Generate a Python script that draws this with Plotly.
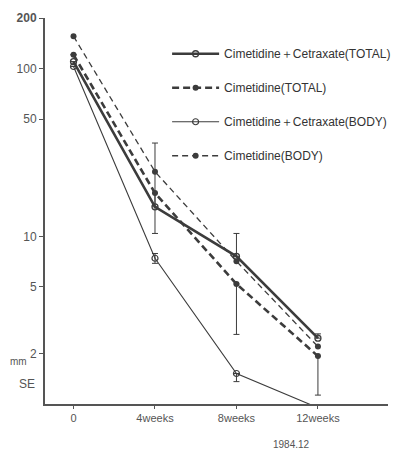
import plotly.graph_objects as go

weeks = [0, 4, 8, 12]
tick_labels = ["0", "4weeks", "8weeks", "12weeks"]

names = [
    "Cimetidine\uff0bCetraxate(TOTAL)",
    "Cimetidine(TOTAL)",
    "Cimetidine\uff0bCetraxate(BODY)",
    "Cimetidine(BODY)",
]
cc_total = [110, 15.0, 7.6, 2.47]
cim_total = [121, 18.1, 5.2, 1.93]
cc_body = [103, 7.4, 1.52, 0.95]
cim_body = [156, 24.3, 7.1, 2.2]

# SE bars (upper / lower)
cc_total_up = [0, 21.0, 2.8, 0.15]
cim_total_down = [0, 7.7, 2.6, 0.8]
cc_body_up = [0, 0.5, 0, 0]
cc_body_down = [0, 0.5, 0.16, 0]

y_ticks = [2, 5, 10, 50, 100, 200]
y_ticktext = ["2", "5", "10", "50", "100", "<b>200</b>"]

ink = "#3c3c3c"
fig = go.Figure()

fig.add_trace(go.Scatter(
    x=weeks, y=cc_total, name=names[0], legendgroup="a", mode="lines+markers",
    line=dict(color=ink, width=2.6),
    marker=dict(symbol="circle-open", size=6, color=ink, line=dict(width=1.3)),
    error_y=dict(type="data", symmetric=False, array=cc_total_up,
                 arrayminus=[0, 0, 0, 0], color=ink, thickness=1, width=3),
    cliponaxis=False))
fig.add_trace(go.Scatter(
    x=weeks, y=cim_total, name=names[1], legendgroup="b", mode="lines+markers",
    line=dict(color=ink, width=2.6, dash="7px,4px"),
    marker=dict(symbol="circle", size=6, color=ink),
    error_y=dict(type="data", symmetric=False, array=[0, 0, 0, 0],
                 arrayminus=cim_total_down, color=ink, thickness=1, width=3),
    cliponaxis=False))
fig.add_trace(go.Scatter(
    x=weeks, y=cc_body, name=names[2], legendgroup="c", mode="lines+markers",
    line=dict(color=ink, width=1.1),
    marker=dict(symbol="circle-open", size=6, color=ink, line=dict(width=1.2)),
    error_y=dict(type="data", symmetric=False, array=cc_body_up,
                 arrayminus=cc_body_down, color=ink, thickness=1, width=3),
    cliponaxis=False))
fig.add_trace(go.Scatter(
    x=weeks, y=cim_body, name=names[3], legendgroup="d", mode="lines+markers",
    line=dict(color=ink, width=1.3, dash="6px,4px"),
    marker=dict(symbol="circle", size=6, color=ink),
    cliponaxis=False))

fig.update_layout(
    width=409, height=450,
    margin=dict(l=45, r=21, t=11, b=46),
    paper_bgcolor="white", plot_bgcolor="white",
    font=dict(family="Liberation Sans, Arial, sans-serif", size=11, color="#444"),
    showlegend=True,
    legend=dict(x=0.356, y=0.945, xanchor="left", yanchor="top",
                bgcolor="rgba(0,0,0,0)", traceorder="grouped",
                tracegroupgap=15, itemwidth=47,
                font=dict(size=12, color="#333")),
    xaxis=dict(range=[-1.4, 15.44], tickvals=weeks, ticktext=tick_labels,
               showline=True, linecolor="#555", linewidth=2, showgrid=False,
               zeroline=False, ticks="outside", ticklen=3, tickcolor="#555",
               tickfont=dict(size=11, color="#555")),
    yaxis=dict(type="log", range=[0, 2.302], tickvals=y_ticks, ticktext=y_ticktext,
               showline=True, linecolor="#555", linewidth=2, showgrid=False,
               zeroline=False, ticks="outside", ticklen=4, tickcolor="#555",
               tickfont=dict(size=12, color="#555")),
)

fig.add_annotation(text="mm", x=-0.076, y=0.11, xref="paper", yref="paper",
                   xanchor="center", yanchor="middle", showarrow=False,
                   font=dict(size=10, color="#555"))
fig.add_annotation(text="SE", x=-0.052, y=0.052, xref="paper", yref="paper",
                   xanchor="center", yanchor="middle", showarrow=False,
                   font=dict(size=12, color="#555"))
fig.add_annotation(text="1984.12", x=12, y=-0.105, xref="x", yref="paper",
                   xanchor="center", yanchor="middle", showarrow=False,
                   font=dict(size=10, color="#555"), xshift=-26)

fig.write_html("out.html")
